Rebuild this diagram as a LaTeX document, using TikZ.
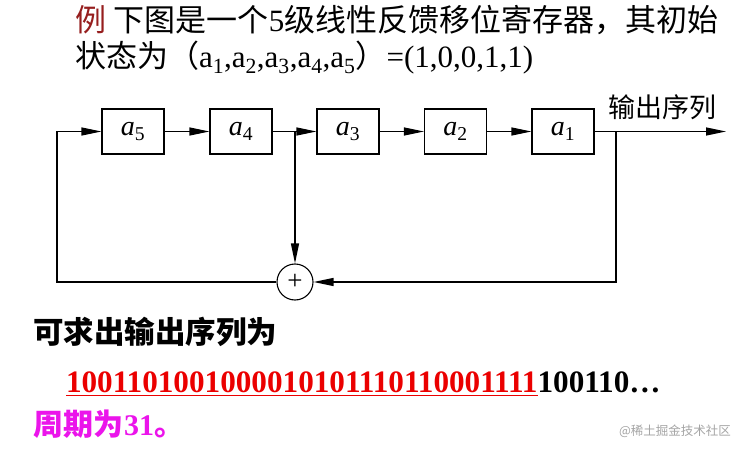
\documentclass[tikz,border=0pt]{standalone}
\usepackage{fontspec}
\setmainfont{Liberation Serif}
\newfontfamily\cjk{Noto Sans CJK SC}
\usetikzlibrary{arrows.meta}
\definecolor{exred}{RGB}{150,30,30}
\definecolor{seqred}{RGB}{235,0,0}
\definecolor{permag}{RGB}{235,20,235}
\definecolor{wmgray}{RGB}{165,165,165}
\tikzset{
  reg/.style={draw, line width=1.1pt, minimum width=62pt, minimum height=45pt, inner sep=0pt, font=\fontsize{28}{28}\selectfont},
  arr/.style={-{Triangle[length=20pt,width=8pt]}, line width=1.2pt},
  wire/.style={line width=1.2pt},
  txt/.style={anchor=base west, inner sep=0pt, outer sep=0pt},
}
\begin{document}
\begin{tikzpicture}[x=1pt,y=-1pt]
\fill[white] (0,0) rectangle (755,476);
\useasboundingbox (0,0) rectangle (755,476);
% heading
\node[txt, font=\fontsize{31}{31}\selectfont] (h1) at (75,32) {{\cjk\color{exred}例} {\cjk 下图是一个}5{\cjk 级线性反馈移位寄存器，其初始}};
\node[txt, font=\fontsize{31}{31}\selectfont] (h2) at (75,68) {{\cjk 状态为（}a\textsubscript{1},a\textsubscript{2},a\textsubscript{3},a\textsubscript{4},a\textsubscript{5}{\cjk ）}=(1,0,0,1,1)};
% registers
\node[reg] (a5) at (133,131.5) {\textit{a}\textsubscript{5}};
\node[reg] (a4) at (241,131.5) {\textit{a}\textsubscript{4}};
\node[reg] (a3) at (348,131.5) {\textit{a}\textsubscript{3}};
\node[reg] (a2) at (455.5,131.5) {\textit{a}\textsubscript{2}};
\node[reg] (a1) at (563,131.5) {\textit{a}\textsubscript{1}};
\node[circle, draw, line width=1.1pt, minimum size=36pt, inner sep=0pt, font=\fontsize{27}{27}\selectfont] (xor) at (295,282) {+};
\coordinate (br) at (295,131.5);
\coordinate (out) at (726,131.5);
\coordinate (rc) at (616,131.5);
\coordinate (lt) at (57,131.5);
\node[txt, font=\fontsize{27}{27}\selectfont\cjk] (outl) at (608,118) {输出序列};
% connectors
\draw[arr] (a5) -- (a4);
\draw[arr] (a4) -- (a3);
\draw[arr] (a3) -- (a2);
\draw[arr] (a2) -- (a1);
\draw[arr] (a1) -- (out);
\draw[arr] (br) -- (xor);
\draw[arr] (rc) |- (xor.east);
\draw[arr] (xor.west) -| (lt) -- (a5);
% result text
\node[txt, font=\fontsize{30.5}{30.5}\selectfont\cjk\bfseries] (res) at (33,343) {可求出输出序列为};
\node[txt, font=\fontsize{31.2}{31.2}\selectfont\bfseries, text=seqred] (sq) at (66,392) {1001101001000010101110110001111};
\node[txt, font=\fontsize{31.2}{31.2}\selectfont\bfseries] (sq2) at (sq.base east) {100110…};
\draw[seqred, line width=1.8pt] ([yshift=-3.5pt]sq.base west) -- ([yshift=-3.5pt]sq.base east);
\node[txt, font=\fontsize{30}{30}\selectfont\bfseries, text=permag] (per) at (34,435) {{\cjk 周期为}31{\cjk 。}};
\node[txt, font=\fontsize{12.5}{12.5}\selectfont\cjk, text=wmgray] (wm) at (619,435) {@稀土掘金技术社区};
\end{tikzpicture}
\end{document}
